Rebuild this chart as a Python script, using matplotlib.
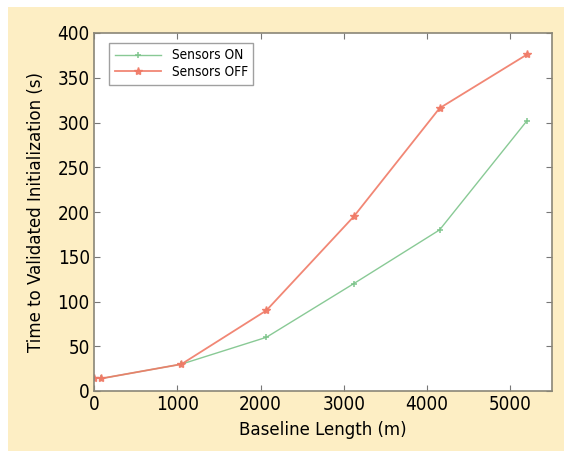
import matplotlib
matplotlib.use("Agg")
import matplotlib.pyplot as plt
from matplotlib.patches import Rectangle

# baseline lengths (m) and time to validated initialization (s)
baseline_on = [0, 90, 1050, 2070, 3120, 4150, 5200]
time_on = [15, 14, 30, 60, 120, 180, 302]
baseline_off = [0, 90, 1050, 2070, 3120, 4150, 5200]
time_off = [15, 14, 30, 90, 195, 316, 376]

x_ticks = [0, 1000, 2000, 3000, 4000, 5000]
y_ticks = [0, 50, 100, 150, 200, 250, 300, 350, 400]

plt.rcParams["font.family"] = "DejaVu Sans"
plt.rcParams["font.stretch"] = "condensed"

fig = plt.figure(figsize=(5.64, 4.51), dpi=100)
# cream panel behind the plot
fig.patches.append(Rectangle((8 / 564, -0.1), 1.2, 1.1 - 7 / 451, transform=fig.transFigure,
                             facecolor="#fdeec4", edgecolor="none", zorder=-1))

ax = fig.add_axes([94 / 564, 1 - 391 / 451, (552 - 94) / 564, (391 - 33) / 451])
ax.plot(baseline_on, time_on, color="#7cc48a", lw=1.0, marker="+", ms=5,
        mew=1.2, alpha=0.9, label="Sensors ON")
ax.plot(baseline_off, time_off, color="#f07a66", lw=1.3, marker="*", ms=6,
        alpha=0.9, label="Sensors OFF")

ax.set_xlim(0, 5500)
ax.set_ylim(0, 400)
ax.set_xticks(x_ticks)
ax.set_yticks(y_ticks)
ax.tick_params(direction="in", top=True, right=True, labelsize=13.5,
               color="#777777", length=4, pad=3)
for s in ax.spines.values():
    s.set_color("#8a8678")
    s.set_linewidth(1.2)

ax.set_xlabel("Baseline Length (m)", fontsize=13.3, labelpad=5)
ax.set_ylabel("Time to Validated Initialization (s)", fontsize=13.3, labelpad=9)

leg = ax.legend(loc="upper left", bbox_to_anchor=(0.033, 0.972), fontsize=9.8,
                frameon=True, fancybox=False, borderpad=0.4, handlelength=3.4,
                labelspacing=0.2, borderaxespad=0)
leg.get_frame().set_edgecolor("#888888")
leg.get_frame().set_linewidth(1.0)

fig.savefig("out.png", dpi=100)
